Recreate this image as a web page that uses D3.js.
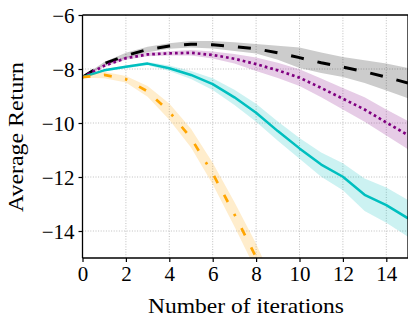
<!DOCTYPE html>
<html>
<head>
<meta charset="utf-8">
<script src="https://cdn.jsdelivr.net/npm/d3@7"></script>
<style>
  html, body { margin: 0; padding: 0; background: #fff; }
  svg { display: block; }
  text { font-family: "Liberation Serif", "Times New Roman", serif; fill: #000; }
</style>
</head>
<body>
<svg id="chart" width="408" height="322"></svg>
<script>
// ---- data ----
const iterations = d3.range(0, 16);               // 0..15
const xTicks = [0, 2, 4, 6, 8, 10, 12, 14];
const yTicks = [-14, -12, -10, -8, -6];

const blackMean   = [-8.3, -7.8, -7.5, -7.28, -7.15, -7.08, -7.1, -7.17, -7.25, -7.4, -7.58, -7.77, -7.93, -8.1, -8.3, -8.52];
const blackSpread = [0.02, 0.06, 0.1, 0.1, 0.1, 0.12, 0.14, 0.16, 0.18, 0.26, 0.38, 0.38, 0.37, 0.42, 0.5, 0.56];

const purpleMean   = [-8.3, -7.88, -7.6, -7.46, -7.42, -7.4, -7.48, -7.62, -7.82, -8.05, -8.32, -8.7, -9.1, -9.5, -9.98, -10.45];
const purpleSpread = [0.02, 0.05, 0.06, 0.07, 0.08, 0.1, 0.13, 0.18, 0.25, 0.28, 0.31, 0.35, 0.4, 0.45, 0.48, 0.52];

const tealMean   = [-8.3, -8.05, -7.92, -7.8, -7.97, -8.22, -8.56, -9.05, -9.62, -10.3, -10.94, -11.54, -11.99, -12.66, -13.04, -13.53];
const tealSpread = [0.02, 0.04, 0.05, 0.06, 0.1, 0.15, 0.22, 0.28, 0.33, 0.36, 0.38, 0.45, 0.5, 0.6, 0.65, 0.68];

const orangeIter   = [0, 1, 2, 3, 4, 5, 6, 7, 8, 9];
const orangeMean   = [-8.3, -8.22, -8.38, -8.83, -9.58, -10.56, -11.87, -13.38, -14.97, -16.8];
const orangeSpread = [0.02, 0.12, 0.12, 0.2, 0.3, 0.35, 0.4, 0.45, 0.5, 0.55];

const series = [
  { x: iterations, mean: blackMean,  spread: blackSpread,  color: "#000000", dash: "13,14", width: 3 },
  { x: iterations, mean: purpleMean, spread: purpleSpread, color: "#800080", dash: "2.7,3", width: 2.7 },
  { x: iterations, mean: tealMean,   spread: tealSpread,   color: "#00bfbf", dash: null, width: 2.5 },
  { x: orangeIter, mean: orangeMean, spread: orangeSpread, color: "#ffa500", dash: "8,13.5,8,13.5,2.5,13.5", width: 2.7 }
];

// ---- layout ----
const pL = 82.5, pR = 408, pT = 15, pB = 258;

const x = d3.scaleLinear().domain([0, 15]).range([pL, pR]);
const y = d3.scaleLinear().domain([-15, -6]).range([pB, pT]);

const svg = d3.select("#chart");

svg.append("defs").append("clipPath").attr("id", "plotclip")
  .append("rect").attr("x", pL).attr("y", pT)
  .attr("width", pR - pL).attr("height", pB - pT);

// grid
const grid = svg.append("g");
grid.selectAll("line.vx").data(xTicks.filter(d => d > 0)).enter().append("line")
  .attr("x1", d => x(d)).attr("x2", d => x(d))
  .attr("y1", pT).attr("y2", pB)
  .attr("stroke", "#b8b8b8").attr("stroke-width", 0.9).attr("stroke-dasharray", "1,1.6");
grid.selectAll("line.hy").data(yTicks.filter(d => d > -15 && d < -6)).enter().append("line")
  .attr("y1", d => y(d)).attr("y2", d => y(d))
  .attr("x1", pL).attr("x2", pR)
  .attr("stroke", "#b8b8b8").attr("stroke-width", 0.9).attr("stroke-dasharray", "1,1.6");

// data
const plot = svg.append("g").attr("clip-path", "url(#plotclip)");
series.forEach(s => {
  const pts = s.x.map((t, i) => ({ t, m: s.mean[i], sd: s.spread[i] }));
  const area = d3.area().x(d => x(d.t)).y0(d => y(d.m - d.sd)).y1(d => y(d.m + d.sd));
  const line = d3.line().x(d => x(d.t)).y(d => y(d.m));
  plot.append("path").attr("d", area(pts))
    .attr("fill", s.color).attr("fill-opacity", 0.2).attr("stroke", "none");
  const p = plot.append("path").attr("d", line(pts))
    .attr("fill", "none").attr("stroke", s.color).attr("stroke-width", s.width)
    .attr("stroke-linejoin", "round");
  if (s.dash) p.attr("stroke-dasharray", s.dash);
});

// axes
const xAxis = d3.axisBottom(x).tickValues(xTicks).tickSize(4).tickPadding(4).tickFormat(d3.format("d"));
const yAxis = d3.axisLeft(y).tickValues(yTicks).tickSize(4).tickPadding(4).tickFormat(d => "\u2212" + Math.abs(d));

const gx = svg.append("g").attr("transform", `translate(0,${pB})`).call(xAxis);
const gy = svg.append("g").attr("transform", `translate(${pL},0)`).call(yAxis);
[gx, gy].forEach(g => {
  g.select(".domain").remove();
  g.selectAll(".tick line").attr("stroke", "#000").attr("stroke-width", 1.2);
  g.selectAll(".tick text").attr("font-family", "Liberation Serif, serif").attr("font-size", 21).attr("fill", "#000");
});
gx.selectAll(".tick text").attr("dy", null).attr("y", 23);
gy.selectAll(".tick text").attr("dy", "0.34em");

// spines
const spine = (x1, y1, x2, y2) => svg.append("line")
  .attr("x1", x1).attr("y1", y1).attr("x2", x2).attr("y2", y2)
  .attr("stroke", "#000").attr("stroke-width", 1.3);
spine(pL, pT, pL, pB);
spine(pL, pB, pR, pB);
spine(pL, pT, pR, pT);
spine(pR, pT, pR, pB);

// labels
svg.append("text").attr("x", 246).attr("y", 313).attr("text-anchor", "middle")
  .attr("font-size", 22).attr("textLength", 196).attr("lengthAdjust", "spacingAndGlyphs")
  .text("Number of iterations");
svg.append("text").attr("transform", "translate(23,137) rotate(-90)").attr("text-anchor", "middle")
  .attr("font-size", 22).attr("textLength", 150).attr("lengthAdjust", "spacingAndGlyphs")
  .text("Average Return");
</script>
</body>
</html>
